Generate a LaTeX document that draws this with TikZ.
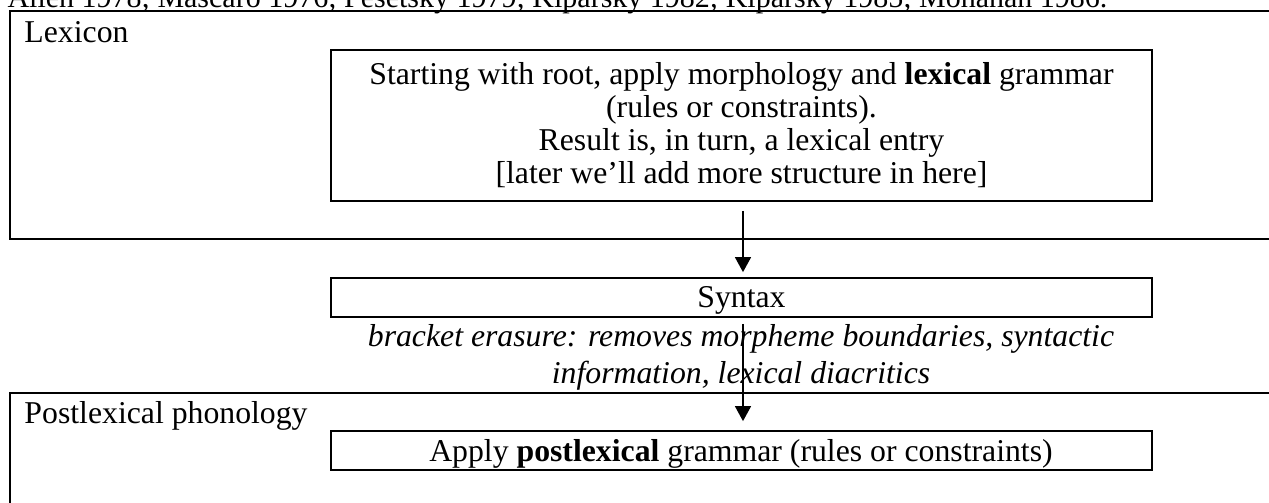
\documentclass[tikz,border=0pt]{standalone}
\usepackage{fontspec}
\setmainfont{Liberation Serif}
\usetikzlibrary{arrows.meta}
\begin{document}
\begin{tikzpicture}[x=0.4pt,y=-0.4pt,
  frame/.style={draw,line width=0.7pt},
  box/.style={draw,line width=0.7pt,minimum width=328.4pt,inner sep=0pt,align=center},
  lbl/.style={anchor=base west,inner sep=0pt},
  arr/.style={line width=0.55pt,-{Triangle[length=6pt,width=6.4pt]}},
  font=\fontsize{12.7}{13.2}\selectfont]
\useasboundingbox (0,0) rectangle (1269,502);
\clip (0,0) rectangle (1269,502);
% cut-off reference line at top
\node[lbl,font=\fontsize{12}{13}\selectfont] (refs) at (7,7.5) {Allen 1978; Mascaró 1976; Pesetsky 1979; Kiparsky 1982; Kiparsky 1985; Mohanan 1986.};
% Lexicon outer frame
\coordinate (lexNW) at (10,11);
\coordinate (lexSE) at (1300,239);
\draw[frame] (lexNW) rectangle (lexSE);
\node[lbl] (lexlabel) at (24,42) {Lexicon};
\node[box,minimum height=60.4pt] (inner) at (741.5,125.5)
  {Starting with root, apply morphology and \textbf{lexical} grammar\\
   (rules or constraints).\\
   Result is, in turn, a lexical entry\\
   {[}later we’ll add more structure in here{]}};
% Syntax
\node[box,minimum height=15.6pt] (syn) at (741.5,297.5) {};
\node[anchor=base,inner sep=0pt] (syntxt) at (741.5,307) {Syntax};
\node[anchor=base,inner sep=0pt] (br1) at (741,346) {\itshape bracket erasure: removes morpheme boundaries, syntactic};
\node[anchor=base,inner sep=0pt] (br2) at (741,383) {\itshape information, lexical diacritics};
% Postlexical frame
\coordinate (postNW) at (10,393);
\coordinate (postSE) at (1300,520);
\draw[frame] (postNW) rectangle (postSE);
\node[lbl] (postlabel) at (24,423) {Postlexical phonology};
\node[box,minimum height=15.6pt] (apply) at (741.5,450.5) {};
\node[anchor=base,inner sep=0pt] (applytxt) at (741,461) {Apply \textbf{postlexical} grammar (rules or constraints)};
% arrows
\coordinate (ax) at (743,0);
\draw[arr,shorten <=3.6pt,shorten >=2pt] (inner.south -| ax) -- (syn.north -| ax);
\draw[arr,shorten <=2.4pt,shorten >=3.6pt] (syn.south -| ax) -- (apply.north -| ax);
\end{tikzpicture}
\end{document}
